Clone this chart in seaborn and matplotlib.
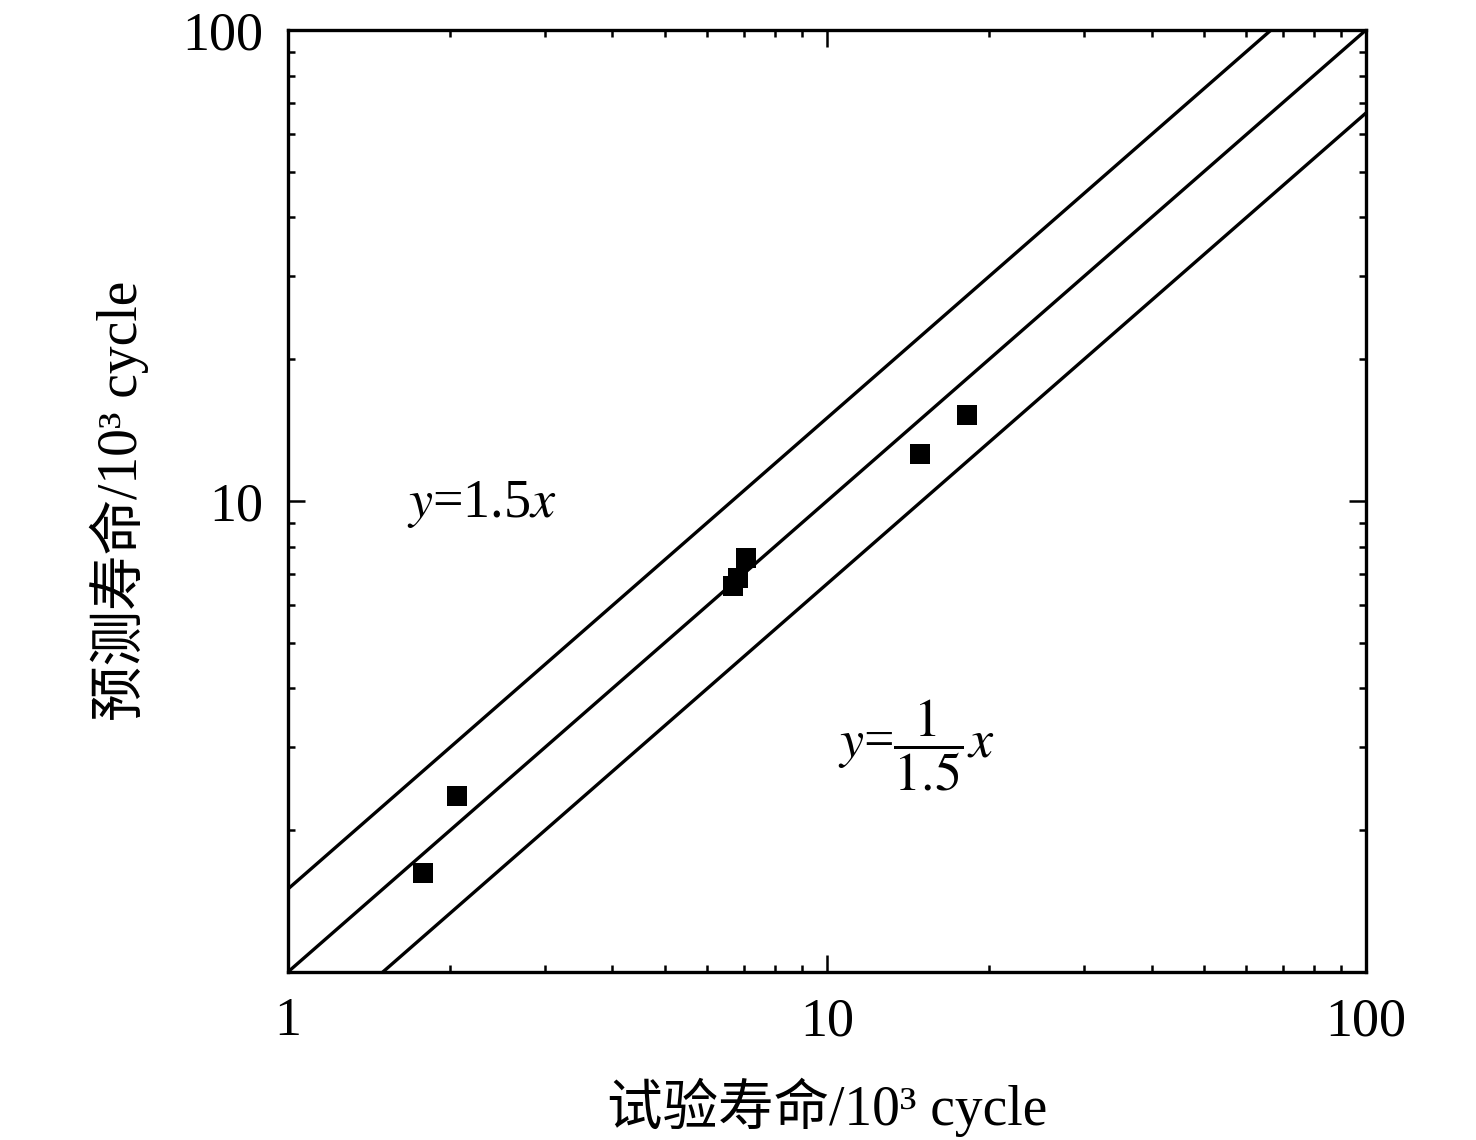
import numpy as np
import pandas as pd
import matplotlib
matplotlib.use("Agg")
import matplotlib.pyplot as plt
import seaborn as sb
from matplotlib.ticker import LogLocator, NullFormatter

# test life vs predicted life (10^3 cycle)
test_life = [1.78, 2.06, 6.69, 6.84, 7.07, 14.9, 18.2]
pred_life = [1.62, 2.36, 6.60, 6.86, 7.57, 12.6, 15.2]

line_x = [1, 100]
ratios = [1.5, 1.0, 1 / 1.5]

x_ticks = [1, 10, 100]
x_tick_labels = ["1", "10", "100"]
y_ticks = [10, 100]
y_tick_labels = ["10", "100"]

sb.set_style("ticks")
plt.rcParams["font.family"] = ["Liberation Serif", "Noto Sans CJK SC"]
plt.rcParams["mathtext.fontset"] = "stix"
plt.rcParams["text.color"] = "black"
plt.rcParams["axes.labelcolor"] = "black"
plt.rcParams["xtick.color"] = "black"
plt.rcParams["ytick.color"] = "black"
plt.rcParams["axes.edgecolor"] = "black"

fig = plt.figure(figsize=(14.76, 11.4), dpi=100)
ax = fig.add_axes([0.1951, 0.1474, 0.7304, 0.8263])

for r in ratios:
    df = pd.DataFrame({"x": line_x, "y": [v * r for v in line_x]})
    sb.lineplot(data=df, x="x", y="y", ax=ax, color="black", linewidth=2.4)

pts = pd.DataFrame({"test": test_life, "pred": pred_life})
sb.scatterplot(data=pts, x="test", y="pred", ax=ax, marker="s", s=190,
               color="black", edgecolor="black", linewidth=0, zorder=5)

ax.set_xscale("log")
ax.set_yscale("log")
ax.set_xlim(1, 100)
ax.set_ylim(1, 100)
ax.set_xticks(x_ticks, x_tick_labels)
ax.set_yticks(y_ticks, y_tick_labels)
ax.xaxis.set_minor_locator(LogLocator(base=10, subs=np.arange(2, 10)))
ax.yaxis.set_minor_locator(LogLocator(base=10, subs=np.arange(2, 10)))
ax.xaxis.set_minor_formatter(NullFormatter())
ax.yaxis.set_minor_formatter(NullFormatter())

ax.tick_params(which="both", direction="in", top=True, right=True, width=1.8, labelsize=39)
ax.tick_params(which="major", length=12, pad=18)
ax.tick_params(which="minor", length=5)
for sp in ax.spines.values():
    sp.set_linewidth(2.4)
    sp.set_visible(True)

ax.set_xlabel("试验寿命/10³ cycle", fontsize=40, labelpad=22)
ax.set_ylabel("预测寿命/10³ cycle", fontsize=40, labelpad=24)

ax.text(0.18, 0.496, r"$y$=1.5$x$", transform=ax.transAxes, fontsize=39,
        ha="center", va="center")
ax.text(0.583, 0.241, r"$y$=$\dfrac{1}{1.5}$$x$", transform=ax.transAxes, fontsize=39,
        ha="center", va="center")

fig.savefig("out.png", dpi=100)
